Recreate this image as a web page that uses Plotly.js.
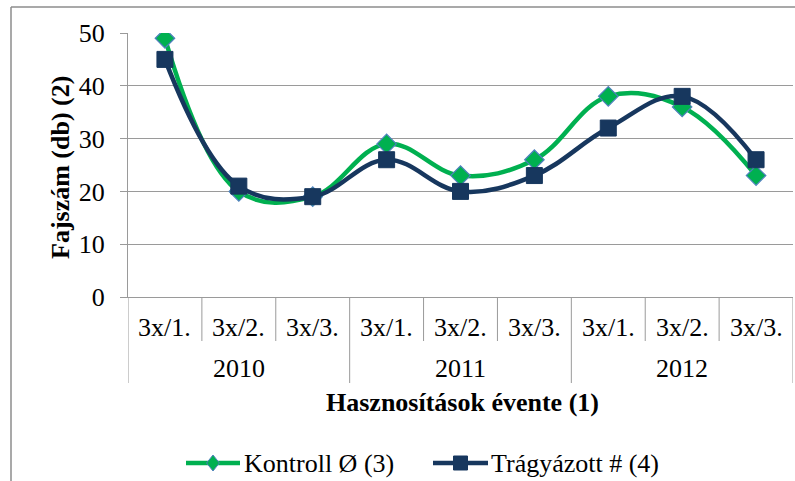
<!DOCTYPE html>
<html>
<head>
<meta charset="utf-8">
<script src="https://cdn.plot.ly/plotly-3.0.1.min.js"></script>
<style>html,body{margin:0;padding:0;background:#fff;}#chart{width:795px;height:481px;}</style>
</head>
<body>
<div id="chart"></div>
<script>
const innerLabels = ["3x/1.", "3x/2.", "3x/3.", "3x/1.", "3x/2.", "3x/3.", "3x/1.", "3x/2.", "3x/3."];
const years = ["2010", "2011", "2012"];
const perYear = 3;
const seriesNames = ["Kontroll Ø (3)", "Trágyázott # (4)"];
const kontroll = [49, 20, 19, 29, 23, 26, 38, 36, 23];
const tragyazott = [45, 21, 19, 26, 20, 23, 32, 38, 26];
const yTicks = [0, 10, 20, 30, 40, 50];

const W = 795, H = 481;
const M = {l: 128, r: 2, t: 33, b: 184};
const plotH = H - M.t - M.b;
const plotW = W - M.l - M.r;
const py = px => -px / plotH;
const pxX = px => (px - M.l) / plotW;
const pxY = px => (H - M.b - px) / plotH;

const xs = innerLabels.map((_, i) => i);
const font = "Liberation Serif";
const grey = "#9a9a9a";
const green = "#00B050", navy = "#17375E", blueEdge = "#4F81BD";

const traces = [
  {
    x: xs, y: kontroll, name: seriesNames[0], type: "scatter", mode: "lines+markers",
    line: {color: green, width: 4.5, shape: "spline", smoothing: 1.1},
    marker: {symbol: "diamond", size: 15, color: green, line: {color: blueEdge, width: 1.2}}
  },
  {
    x: xs, y: tragyazott, name: seriesNames[1], type: "scatter", mode: "lines+markers",
    line: {color: navy, width: 4.5, shape: "spline", smoothing: 1.1},
    marker: {symbol: "square", size: 16, color: navy, line: {color: navy, width: 1}}
  }
];

const shapes = [];
const annotations = [];
for (let i = 0; i <= innerLabels.length; i++) {
  const isGroup = i % perYear === 0;
  shapes.push({type: "line", xref: "x", yref: "paper", x0: i - 0.5, x1: i - 0.5,
    y0: 0, y1: py(isGroup ? 86 : 44), line: {color: grey, width: 1}});
}
const txt = (extra) => Object.assign({showarrow: false, xanchor: "center", yanchor: "middle",
  font: {family: font, size: 26, color: "#000"}}, extra);
innerLabels.forEach((t, i) => {
  annotations.push(txt({xref: "x", yref: "paper", x: i, y: py(30), text: t}));
});
years.forEach((t, g) => {
  annotations.push(txt({xref: "x", yref: "paper", x: g * perYear + (perYear - 1) / 2, y: py(71), text: t}));
});
annotations.push(txt({xref: "paper", yref: "paper", x: pxX(462), y: py(106), text: "<b>Hasznosítások évente (1)</b>"}));
annotations.push(txt({xref: "paper", yref: "paper", x: pxX(60), y: pxY(168), text: "<b>Fajszám (db) (2)</b>", textangle: -90}));

// chart outer border (left and top edges visible)
shapes.push({type: "line", xref: "paper", yref: "paper", x0: pxX(11), x1: pxX(11), y0: pxY(H), y1: pxY(7), line: {color: "#8c8c8c", width: 1.5}});
shapes.push({type: "line", xref: "paper", yref: "paper", x0: pxX(11), x1: pxX(W), y0: pxY(7), y1: pxY(7), line: {color: "#8c8c8c", width: 1.5}});

// manual legend
const legY = 463;
const legItems = [
  {x0: 186, x1: 240, textX: 242, color: green, edge: blueEdge, sym: "diamond"},
  {x0: 433, x1: 488, textX: 489, color: navy, edge: navy, sym: "square"}
];
legItems.forEach((it, k) => {
  shapes.push({type: "line", xref: "paper", yref: "paper", x0: pxX(it.x0), x1: pxX(it.x1), y0: pxY(legY), y1: pxY(legY),
    line: {color: it.color, width: 4.5}});
  const cx = (it.x0 + it.x1) / 2, cy = legY, r = 8;
  let path;
  if (it.sym === "diamond") {
    path = `M ${pxX(cx)} ${pxY(cy - r)} L ${pxX(cx + r * 0.8)} ${pxY(cy)} L ${pxX(cx)} ${pxY(cy + r)} L ${pxX(cx - r * 0.8)} ${pxY(cy)} Z`;
  } else {
    path = `M ${pxX(cx - 7)} ${pxY(cy - 7)} L ${pxX(cx + 7)} ${pxY(cy - 7)} L ${pxX(cx + 7)} ${pxY(cy + 7)} L ${pxX(cx - 7)} ${pxY(cy + 7)} Z`;
  }
  shapes.push({type: "path", xref: "paper", yref: "paper", path: path, fillcolor: it.color, line: {color: it.edge, width: 1}});
  annotations.push(txt({xref: "paper", yref: "paper", x: pxX(it.textX), y: pxY(legY), xanchor: "left", text: seriesNames[k]}));
});

const layout = {
  width: W, height: H,
  margin: M,
  paper_bgcolor: "#fff", plot_bgcolor: "#fff",
  showlegend: false,
  xaxis: {range: [-0.5, innerLabels.length - 0.5], showgrid: false, zeroline: false,
    showticklabels: false, ticks: "", showline: true, linecolor: grey, linewidth: 1, fixedrange: true},
  yaxis: {range: [0, 50], tickvals: yTicks, ticktext: yTicks.map(String), showgrid: true, gridcolor: grey, gridwidth: 1,
    zeroline: false, showline: true, linecolor: grey, linewidth: 1, ticks: "outside", ticklen: 7, tickcolor: grey,
    ticklabelstandoff: 10,
    tickfont: {family: font, size: 26, color: "#000"}, fixedrange: true},
  shapes: shapes,
  annotations: annotations
};

Plotly.newPlot("chart", traces, layout, {displayModeBar: false, staticPlot: true});
</script>
</body>
</html>
